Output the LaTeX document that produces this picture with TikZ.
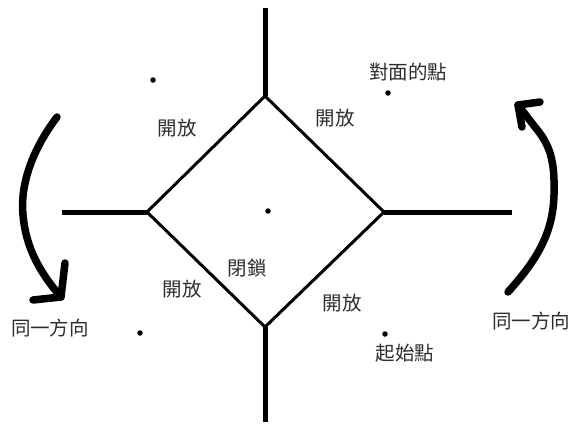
\documentclass[tikz,border=0pt]{standalone}
\usepackage{fontspec}
\newfontfamily\cjk{Noto Sans CJK TC}
\definecolor{txt}{RGB}{45,45,45}
\begin{document}
\begin{tikzpicture}[x=1pt,y=-1pt,
  lbl/.style={font=\cjk\fontsize{19.5}{21}\selectfont, text=txt, inner sep=0pt},
  dotmark/.style={circle, fill=black, inner sep=0pt, minimum size=5.5pt},
  edge/.style={line width=3pt, line cap=round, line join=round},
  stub/.style={line width=5pt},
  pen/.style={line width=7.5pt, line cap=round, line join=round}]
\useasboundingbox (0,0) rectangle (574,426);
\fill[white] (0,0) rectangle (574,426);
% diamond vertices
\coordinate (T) at (265,96);
\coordinate (L) at (147,212);
\coordinate (R) at (384,212);
\coordinate (B) at (265,327);
\coordinate (Tend) at (265,8);
\coordinate (Bend) at (265,422);
\coordinate (Lend) at (62,212);
\coordinate (Rend) at (512,212);
\draw[edge] (T) -- (R) -- (B) -- (L) -- cycle;
\draw[stub] (T) -- (Tend);
\draw[stub] (B) -- (Bend);
\draw[stub] (L) -- (Lend);
\draw[stub] (R) -- (Rend);
% dots
\node[dotmark] (d1) at (153,80) {};
\node[dotmark] (d2) at (388,93) {};
\node[dotmark] (d3) at (268,211) {};
\node[dotmark] (d4) at (140,333) {};
\node[dotmark] (d5) at (385,334) {};
% labels
\node[lbl] (o1) at (177,128) {開放};
\node[lbl] (o2) at (335,118) {開放};
\node[lbl] (o3) at (182,289) {開放};
\node[lbl] (o4) at (342,303) {開放};
\node[lbl] (c) at (247,268) {閉鎖};
\node[lbl] (opp) at (408,72) {對面的點};
\node[lbl] (st) at (405,353) {起始點};
\node[lbl] (s1) at (50,328) {同一方向};
\node[lbl] (s2) at (531,321) {同一方向};
% left arrow
\coordinate (la0) at (57,117);
\coordinate (lat) at (61,297);
\coordinate (lb1) at (65,263);
\coordinate (lb2) at (33,300);
\draw[pen] (la0) .. controls (32,150) and (20,185) .. (23,215)
  .. controls (26,250) and (42,275) .. (lat);
\draw[pen] (lb1) -- (lat) -- (lb2);
% right arrow
\coordinate (ra0) at (508,292);
\coordinate (rat) at (518,105);
\coordinate (rb1) at (540,102);
\coordinate (rb2) at (522,127);
\draw[pen] (ra0) .. controls (535,262) and (553,235) .. (554,195)
  .. controls (555,160) and (550,145) .. (535,127) -- (rat);
\draw[pen] (rb1) -- (rat) -- (rb2);
\end{tikzpicture}
\end{document}
